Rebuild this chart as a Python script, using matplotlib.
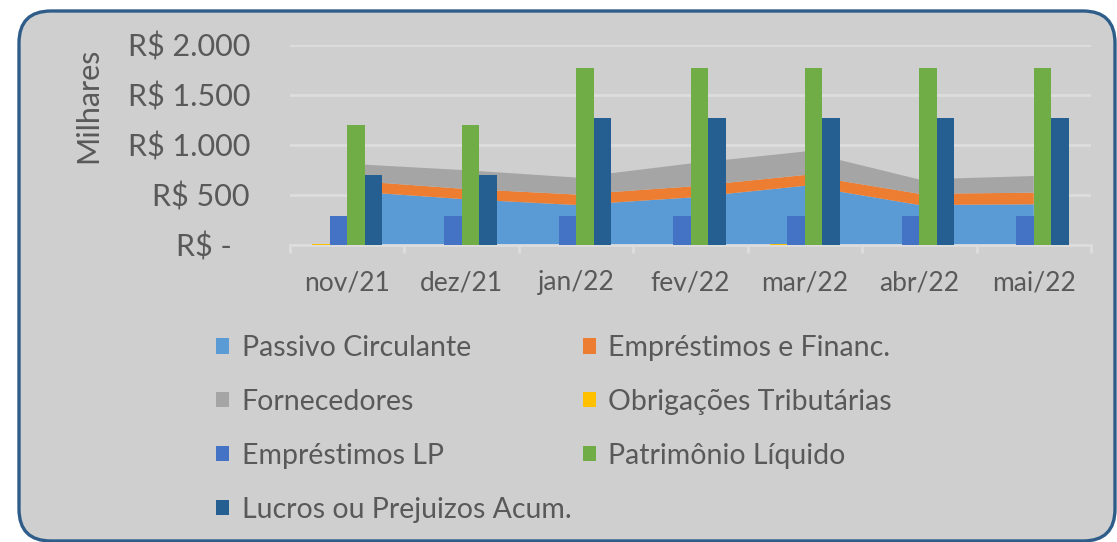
import matplotlib
matplotlib.use("Agg")
import matplotlib.pyplot as plt
from matplotlib.patches import FancyBboxPatch, Patch
from matplotlib.transforms import IdentityTransform, ScaledTranslation
import numpy as np

categories = ["nov/21", "dez/21", "jan/22", "fev/22", "mar/22", "abr/22", "mai/22"]

# stacked areas
passivo_circulante = [540, 460, 400, 475, 592, 400, 407]
emprestimos_financ = [106, 103, 105, 110, 108, 112, 116]
fornecedores = [167, 187, 170, 230, 235, 143, 167]

# columns
obrigacoes_tributarias = [12, 0, 0, 0, 12, 0, 0]
emprestimos_lp = [290, 290, 290, 290, 290, 290, 290]
patrimonio_liquido = [1205, 1205, 1770, 1770, 1770, 1770, 1770]
lucros_prejuizos = [700, 700, 1270, 1270, 1270, 1270, 1270]

yticks = [0, 500, 1000, 1500, 2000]
ytick_labels = ["R$ -", "R$ 500", "R$ 1.000", "R$ 1.500", "R$ 2.000"]

names = ["Passivo Circulante", "Empréstimos e Financ.", "Fornecedores",
         "Obrigações Tributárias", "Empréstimos LP", "Patrimônio Líquido",
         "Lucros ou Prejuizos Acum."]
colors = ["#5b9bd5", "#ed7d31", "#a5a5a5", "#ffc000", "#4472c4", "#70ad47", "#255e91"]

plt.rcParams['font.family'] = ['Lato', 'DejaVu Sans']
text_color = "#595959"
FS_X = 19
FS_Y = 22
FS_L = 20.5

W, H = 1117, 542
fig = plt.figure(figsize=(W / 100, H / 100), dpi=100)
fig.patch.set_facecolor("white")

box = FancyBboxPatch((19, 1), 1096, 530, boxstyle="round,pad=0,rounding_size=32",
                     transform=IdentityTransform(), facecolor="#d0cfd0",
                     edgecolor="#2e5d8a", linewidth=2.4, zorder=-10)
fig.patches.append(box)

ax = fig.add_axes([290 / W, (H - 245) / H, 801 / W, 200 / H])
ax.set_facecolor("none")

x = np.arange(len(categories))
ax.stackplot(x, passivo_circulante, emprestimos_financ, fornecedores,
             colors=colors[:3], zorder=2, linewidth=0)

bw = 0.153
bar_series = [obrigacoes_tributarias, emprestimos_lp, patrimonio_liquido, lucros_prejuizos]
offsets = [-1.5, -0.5, 0.5, 1.5]
for vals, off, col in zip(bar_series, offsets, colors[3:]):
    ax.bar(x + off * bw, vals, width=bw, color=col, zorder=3, linewidth=0)

ax.set_xlim(-0.5, len(categories) - 0.5)
ax.set_ylim(0, 2000)

grid_c = "#dddddd"
ax.set_yticks(yticks)
ax.set_yticklabels(ytick_labels)
ax.yaxis.grid(True, color=grid_c, linewidth=2, zorder=0)
ax.set_axisbelow(True)
ax.tick_params(axis='y', length=0, pad=28.8, labelsize=FS_Y, labelcolor=text_color)
# accounting-style dash label sits further left
lbl0 = ax.get_yticklabels()[0]
lbl0.set_transform(lbl0.get_transform() + ScaledTranslation(-18 / 100, 0, fig.dpi_scale_trans))

ax.set_xticks(x)
ax.set_xticklabels(categories)
ax.set_xticks(np.arange(-0.5, len(categories), 1.0), minor=True)
ax.tick_params(axis='x', which='major', length=0, pad=18, labelsize=FS_X, labelcolor=text_color)
ax.tick_params(axis='x', which='minor', length=6, width=2, color=grid_c, direction='out')

for s in ["top", "right", "left"]:
    ax.spines[s].set_visible(False)
ax.spines["bottom"].set_color(grid_c)
ax.spines["bottom"].set_linewidth(2)

ax.set_ylabel("Milhares", fontsize=FS_Y, color=text_color)
ax.yaxis.set_label_coords(-0.2345, 0.70)

handles = [Patch(facecolor=c, edgecolor='none') for c in colors]
order = [0, 2, 4, 6, 1, 3, 5]
leg = fig.legend([handles[i] for i in order], [names[i] for i in order],
                 ncol=2, loc="upper left", bbox_to_anchor=(216 / W, (H - 335) / H),
                 frameon=False, fontsize=FS_L, labelcolor=text_color,
                 handlelength=0.45, handleheight=0.45, handletextpad=0.45,
                 labelspacing=0.98, columnspacing=0.4, borderpad=0, borderaxespad=0)

fig.savefig("out.png", dpi=100, facecolor="white")
